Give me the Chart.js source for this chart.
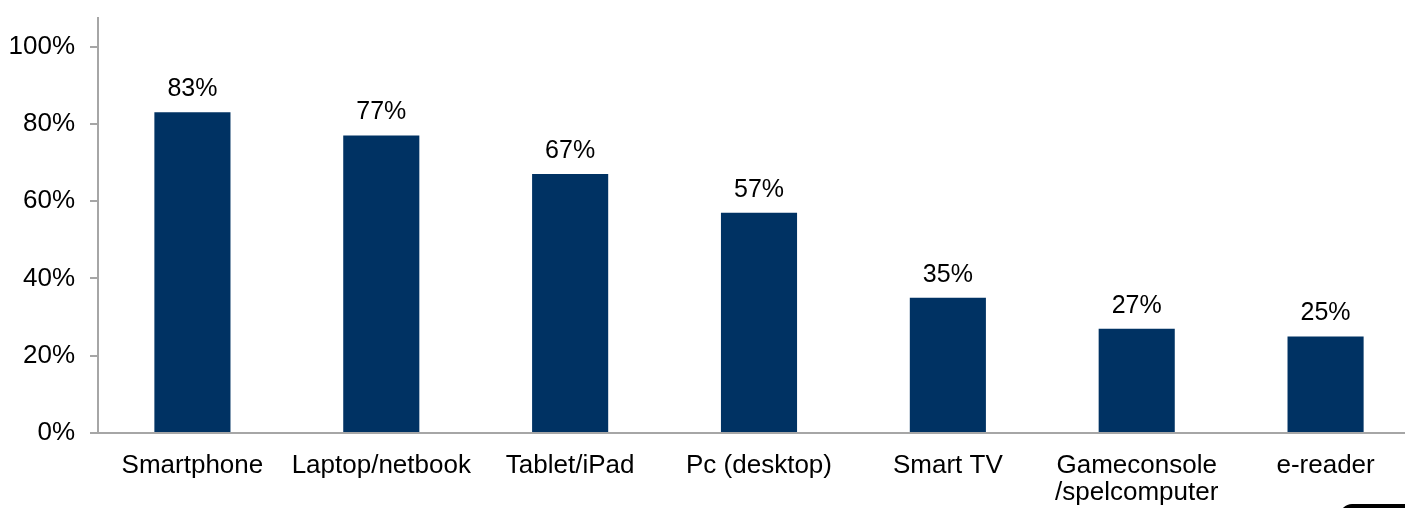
<!DOCTYPE html>
<html><head><meta charset="utf-8">
<script src="https://cdn.jsdelivr.net/npm/chart.js@4/dist/chart.umd.min.js"></script>
<style>
html,body{margin:0;padding:0;background:#fff;overflow:hidden;width:1405px;height:508px;}
#wrap{position:absolute;left:0;top:-13px;width:1420px;height:521px;}
#blob{position:absolute;left:1340px;top:504px;width:80px;height:20px;background:#000;border-radius:12px 0 0 0;}
</style></head>
<body>
<div id="wrap"><canvas id="c" width="1420" height="521"></canvas></div>
<div id="blob"></div>
<script>
const categories = ["Smartphone","Laptop/netbook","Tablet/iPad","Pc (desktop)","Smart TV",["Gameconsole","/spelcomputer"],"e-reader"];
const values = [83,77,67,57,35,27,25];
const yTicks = [0,20,40,60,80,100];

const FONT = '"Liberation Sans", Arial, sans-serif';

const labelPlugin = {
  id:'barLabels',
  afterDatasetsDraw(chart){
    const ctx = chart.ctx;
    const meta = chart.getDatasetMeta(0);
    ctx.save();
    ctx.font = '25px ' + FONT;
    ctx.fillStyle = '#000';
    ctx.textAlign = 'center';
    ctx.textBaseline = 'alphabetic';
    meta.data.forEach((bar,i)=>{
      ctx.fillText(values[i] + '%', bar.x, bar.y - 16);
    });
    ctx.restore();
  }
};

new Chart(document.getElementById('c'),{
  type:'bar',
  data:{labels:categories,datasets:[{data:values,backgroundColor:'#003263',barPercentage:0.403,categoryPercentage:1}]},
  options:{
    responsive:false,animation:false,
    layout:{padding:{top:0,right:0,left:0,bottom:0}},
    plugins:{legend:{display:false},tooltip:{enabled:false}},
    scales:{
      x:{
        grid:{display:true,drawOnChartArea:false,drawTicks:false},
        border:{display:true,color:'#a6a6a6',width:2},
        ticks:{color:'#000',font:{family:FONT,size:26,lineHeight:1.04},padding:19,maxRotation:0,autoSkip:false},
        afterFit(s){s.height=75;}
      },
      y:{
        min:0,max:107.5,
        afterBuildTicks(s){s.ticks = yTicks.map(v=>({value:v}));},
        grid:{display:true,drawOnChartArea:false,drawTicks:true,tickLength:8,color:'#a6a6a6',lineWidth:2},
        border:{display:true,color:'#a6a6a6',width:2},
        ticks:{color:'#000',font:{family:FONT,size:26},padding:15,callback:v=>v+'%'},
        afterFit(s){s.width=98;}
      }
    }
  },
  plugins:[labelPlugin]
});
</script>
</body></html>
